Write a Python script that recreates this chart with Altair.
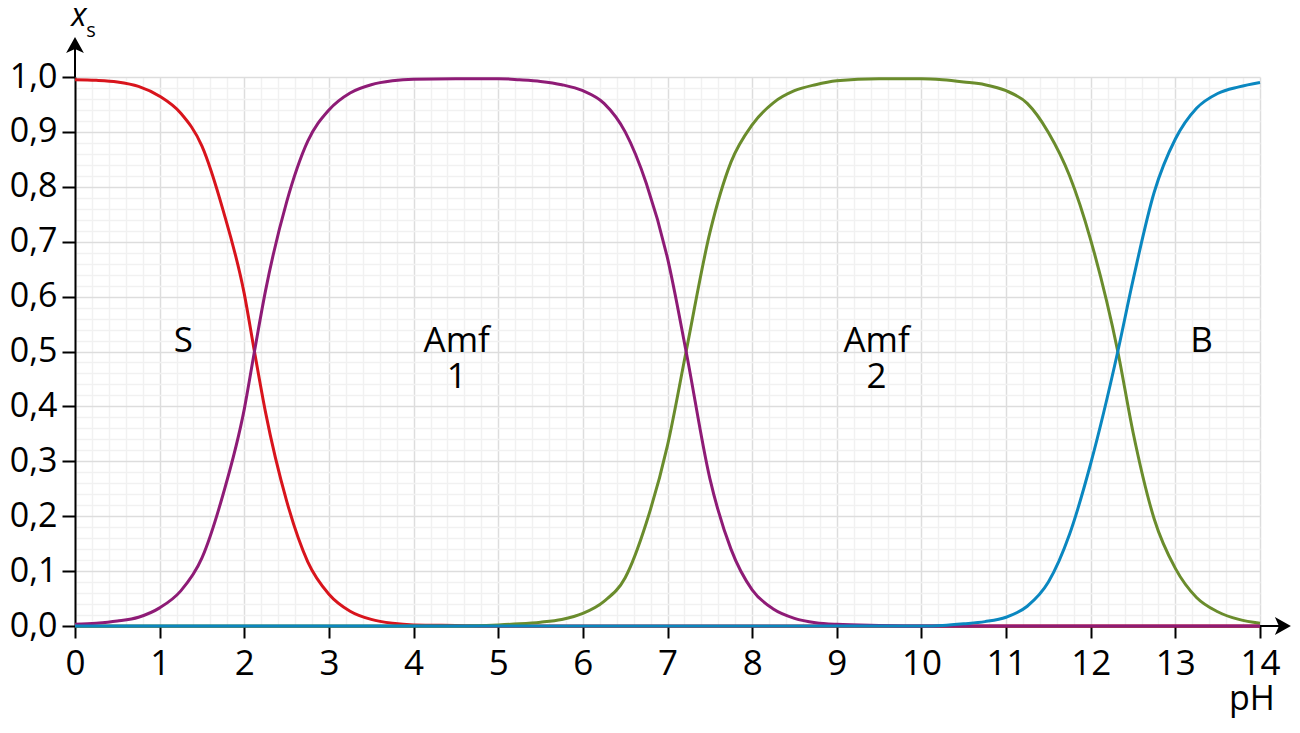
import altair as alt
import pandas as pd

ph = [0, 0.25, 0.5, 0.75, 1, 1.25, 1.5, 1.75, 2, 2.12, 2.25, 2.5, 2.75, 3,
      3.25, 3.5, 3.75, 4, 4.5, 5, 5.25, 5.5, 5.75, 6, 6.25, 6.5, 6.75, 7,
      7.22, 7.5, 7.75, 8, 8.25, 8.5, 8.75, 9, 9.5, 10, 10.25, 10.5, 10.75,
      11, 11.25, 11.5, 11.75, 12, 12.32, 12.5, 12.75, 13, 13.25, 13.5,
      13.75, 14]

# mole fractions x_s of each species
s_vals = [0.995, 0.994, 0.991, 0.983, 0.965, 0.934, 0.874, 0.757, 0.605,
          0.5, 0.39, 0.228, 0.117, 0.058, 0.027, 0.012, 0.005, 0.002, 0.001,
          0, 0, 0, 0, 0, 0, 0, 0, 0, 0, 0, 0, 0, 0, 0, 0, 0, 0, 0, 0, 0, 0,
          0, 0, 0, 0, 0, 0, 0, 0, 0, 0, 0, 0, 0]
amf1_vals = [0.003, 0.005, 0.009, 0.016, 0.033, 0.064, 0.124, 0.24, 0.395,
             0.5, 0.61, 0.772, 0.883, 0.94, 0.971, 0.986, 0.993, 0.996,
             0.997, 0.997, 0.995, 0.992, 0.986, 0.975, 0.952, 0.9, 0.806,
             0.67, 0.5, 0.269, 0.14, 0.066, 0.031, 0.014, 0.006, 0.003,
             0.001, 0, 0, 0, 0, 0, 0, 0, 0, 0, 0, 0, 0, 0, 0, 0, 0, 0]
amf2_vals = [0, 0, 0, 0, 0, 0, 0, 0, 0, 0, 0, 0, 0, 0, 0, 0, 0, 0, 0,
             0.002, 0.004, 0.007, 0.012, 0.023, 0.045, 0.088, 0.188, 0.329,
             0.5, 0.716, 0.845, 0.913, 0.953, 0.975, 0.986, 0.993, 0.997,
             0.997, 0.995, 0.991, 0.986, 0.975, 0.952, 0.899, 0.82, 0.703,
             0.5, 0.353, 0.195, 0.105, 0.052, 0.026, 0.012, 0.005]
b_vals = [0, 0, 0, 0, 0, 0, 0, 0, 0, 0, 0, 0, 0, 0, 0, 0, 0, 0, 0, 0, 0,
          0, 0, 0, 0, 0, 0, 0, 0, 0, 0, 0, 0, 0, 0, 0, 0, 0,
          0.001, 0.004, 0.008, 0.016, 0.036, 0.08, 0.167, 0.296, 0.5, 0.63,
          0.79, 0.887, 0.943, 0.97, 0.982, 0.99]

x_ticks = list(range(15))
y_ticks = [0.0, 0.1, 0.2, 0.3, 0.4, 0.5, 0.6, 0.7, 0.8, 0.9, 1.0]

label_text = ["S", "Amf", "1", "Amf", "2", "B"]
label_ph = [1.28, 4.51, 4.51, 9.47, 9.47, 13.31]
label_xs = [0.5, 0.5, 0.434, 0.5, 0.434, 0.5]

FONT = "Open Sans"
W, H = 1185, 549

# fine background grid every 0.2 pH / 0.02 x_s
x_minor = [round(k * 0.2, 1) for k in range(1, 70) if k % 5]
y_minor = [round(k * 0.02, 2) for k in range(1, 50) if k % 5]

x_scale = alt.Scale(domain=[0, 14], nice=False, zero=False)
y_scale = alt.Scale(domain=[0, 1], nice=False)

minor_x_axis = alt.Axis(values=x_minor, orient="bottom", grid=True,
                        gridColor="#f1f1f1", gridWidth=1.5, labels=False,
                        ticks=False, domain=False, title=None)
minor_y_axis = alt.Axis(values=y_minor, orient="left", grid=True,
                        gridColor="#f1f1f1", gridWidth=1.5, labels=False,
                        ticks=False, domain=False, title=None)
major_x_axis = alt.Axis(values=x_ticks, orient="bottom", grid=True,
                        gridColor="#dddddd", gridWidth=1.5, domain=True,
                        domainColor="black", domainWidth=2, ticks=True,
                        tickColor="black", tickWidth=2, tickSize=12,
                        labelFont=FONT, labelFontSize=35, labelColor="black",
                        labelPadding=8, labelFlush=False, labelOverlap=False,
                        title=None)
major_y_axis = alt.Axis(values=y_ticks, orient="left", grid=True,
                        gridColor="#dddddd", gridWidth=1.5, domain=True,
                        domainColor="black", domainWidth=2, ticks=True,
                        tickColor="black", tickWidth=2, tickSize=13,
                        labelFont=FONT, labelFontSize=34, labelColor="black",
                        labelPadding=5, labelOverlap=False,
                        labelExpr="replace(format(datum.value, '.1f'), '.', ',')",
                        title=None)


def curve(values, color, x_axis=None, y_axis=None):
    df = pd.DataFrame({"pH": ph, "xs": values})
    return alt.Chart(df).mark_line(
        color=color, strokeWidth=3, interpolate="monotone"
    ).encode(
        x=alt.X("pH:Q", scale=x_scale, axis=x_axis),
        y=alt.Y("xs:Q", scale=y_scale, axis=y_axis),
    )


red = curve(s_vals, "#d8141c", minor_x_axis, minor_y_axis)
green = curve(amf2_vals, "#6a8c2c", major_x_axis, major_y_axis)
purple = curve(amf1_vals, "#8e1b76")
blue = curve(b_vals, "#0a87c0")

labels = alt.Chart(pd.DataFrame({"pH": label_ph, "xs": label_xs, "t": label_text})).mark_text(
    font=FONT, fontSize=35, align="center", baseline="alphabetic", color="black"
).encode(
    x=alt.X("pH:Q", scale=x_scale, axis=None),
    y=alt.Y("xs:Q", scale=y_scale, axis=None),
    text="t:N",
)

# axis arrows and titles
deco = alt.Chart(pd.DataFrame({"d": [0]}))
y_stem = deco.mark_rule(color="black", strokeWidth=2).encode(
    x=alt.value(0), y=alt.value(-30), y2=alt.value(0))
x_stem = deco.mark_rule(color="black", strokeWidth=2).encode(
    x=alt.value(W), x2=alt.value(W + 20), y=alt.value(H))
y_head = deco.mark_point(shape="M0,-1L1,0.8L0,0.35L-1,0.8Z", filled=True,
                         color="black", opacity=1, size=316, strokeWidth=0).encode(
    x=alt.value(0), y=alt.value(-31))
x_head = deco.mark_point(shape="M1,0L-0.8,1L-0.35,0L-0.8,-1Z", filled=True,
                         color="black", opacity=1, size=316, strokeWidth=0).encode(
    x=alt.value(W + 22), y=alt.value(H))
y_title = deco.mark_text(text="x", font=FONT, fontSize=32, fontStyle="italic",
                         align="center", baseline="alphabetic", color="black").encode(
    x=alt.value(4), y=alt.value(-51))
y_sub = deco.mark_text(text="s", font=FONT, fontSize=20, align="center",
                       baseline="alphabetic", color="black").encode(
    x=alt.value(16), y=alt.value(-40))
x_title = deco.mark_text(text="pH", font=FONT, fontSize=34, align="center",
                         baseline="alphabetic", color="black").encode(
    x=alt.value(1177), y=alt.value(H + 84))

chart = alt.layer(
    red, green, purple, blue, labels,
    y_stem, x_stem, y_head, x_head, y_title, y_sub, x_title
).resolve_axis(
    x="independent", y="independent"
).properties(
    width=W, height=H,
    autosize=alt.AutoSizeParams(type="none"),
    padding={"left": 67, "top": 69, "right": 32, "bottom": 92},
).configure_view(stroke=None)

chart.save("out.html", embed_options={"renderer": "svg", "actions": False})
